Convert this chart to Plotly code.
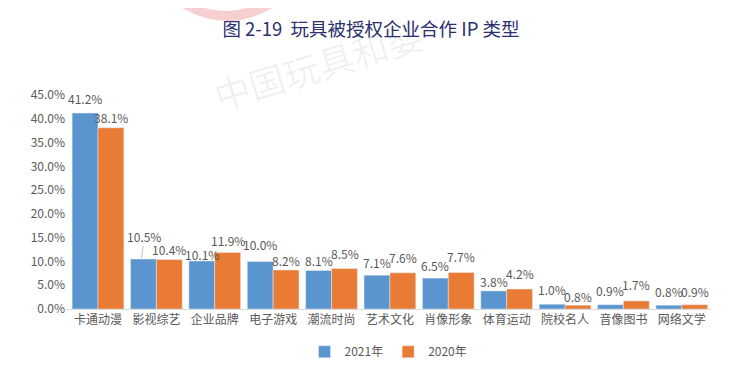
import plotly.graph_objects as go

categories = ["卡通动漫", "影视综艺", "企业品牌", "电子游戏", "潮流时尚", "艺术文化",
              "肖像形象", "体育运动", "院校名人", "音像图书", "网络文学"]
v2021 = [41.2, 10.5, 10.1, 10.0, 8.1, 7.1, 6.5, 3.8, 1.0, 0.9, 0.8]
v2020 = [38.1, 10.4, 11.9, 8.2, 8.5, 7.6, 7.7, 4.2, 0.8, 1.7, 0.9]
yticks = [0, 5, 10, 15, 20, 25, 30, 35, 40, 45]

font = "Noto Sans CJK SC, Noto Sans, sans-serif"
# the page body has an 8px margin, so the figure is sized/placed to compensate
W, H = 726, 368

fig = go.Figure()
fig.add_trace(go.Bar(name="2021年", x=categories, y=v2021, marker_color="#5B95CF"))
fig.add_trace(go.Bar(name="2020年", x=categories, y=v2020, marker_color="#E97B34"))

# label pixel lifts (style only) mimicking the hand-placed labels in the reference
lift_2021 = [4, 0, -4, 6, -1, 2, 2, -1, 4, 4, 3]
lift_2020 = [0, 0, 1, -1, 5, 5, 5, 5, -2, 6, 3]
for series, lifts, shift in ((v2021, lift_2021, -13), (v2020, lift_2020, 13)):
    for i, (c, v) in enumerate(zip(categories, series)):
        if series is v2021 and i == 1:
            fig.add_annotation(x=c, y=v, xref="x", yref="y", text=f"{v:.1f}%", showarrow=True,
                               arrowhead=0, arrowwidth=1, arrowcolor="#BFBFBF", ax=3, ay=-23,
                               xshift=shift - 2, standoff=1,
                               font=dict(size=12, color="#595959", family=font))
            continue
        fig.add_annotation(x=c, y=v, xref="x", yref="y", text=f"{v:.1f}%", showarrow=False,
                           xshift=shift, yanchor="bottom", yshift=lifts[i],
                           font=dict(size=12, color="#595959", family=font))

# faint watermark
fig.add_shape(type="path", xref="paper", yref="paper", layer="below",
              path="M 0.161,1.444 Q 0.2496,1.248 0.3395,1.444 L 0.3085,1.444 Q 0.2496,1.341 0.184,1.444 Z",
              fillcolor="rgba(230,120,120,0.35)", line=dict(width=0))
fig.add_annotation(text="中国玩具和婴", xref="paper", yref="paper", x=0.391, y=1.145,
                   xanchor="center", yanchor="middle",
                   showarrow=False, textangle=-17,
                   font=dict(size=36, color="rgba(0,0,0,0.06)", family=font))

fig.update_layout(
    width=W, height=H,
    margin=dict(l=58, r=23, t=87, b=67, autoexpand=False),
    paper_bgcolor="white", plot_bgcolor="white",
    font=dict(family=font, size=12, color="#595959"),
    title=dict(text="图 2-19  玩具被授权企业合作 IP 类型", x=0.5, xanchor="center",
               y=1 - 22 / H, yanchor="middle",
               font=dict(size=18.5, color="#2B2F6E", family=font)),
    barmode="group", bargap=0.114, bargroupgap=0,
    showlegend=True,
    legend=dict(orientation="h", x=0.5, xanchor="center", y=-0.2, yanchor="middle",
                font=dict(size=12, color="#595959"), itemwidth=30),
)
fig.update_xaxes(showline=True, linecolor="#D9D9D9", linewidth=1, ticks="", automargin=False,
                 tickfont=dict(size=12, color="#595959"))
fig.update_yaxes(range=[0, 45], tickvals=yticks, ticktext=[f"{t:.1f}%" for t in yticks], automargin=False,
                 showgrid=False, zeroline=False, showline=False, tickfont=dict(size=12, color="#595959"))

fig.write_html("out.html")
